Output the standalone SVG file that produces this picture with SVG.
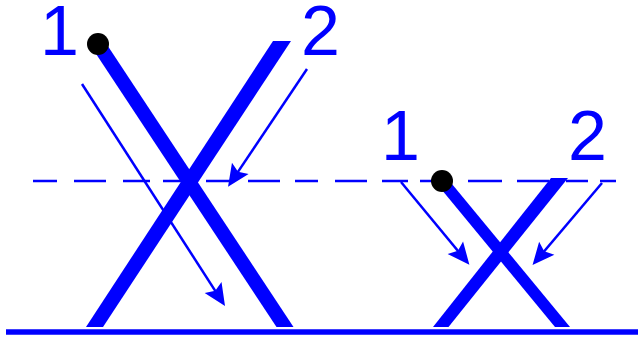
<svg xmlns="http://www.w3.org/2000/svg" width="638" height="340" viewBox="0 0 638 340">
  <style>
    .bar { fill: #0000ff; }
    .dot { fill: #000000; }
    .lbl { font-family: "Liberation Sans", Arial, sans-serif; font-size: 70px; fill: #0000ff; }
    .arr { stroke: #0000ff; stroke-width: 2.5; fill: none; marker-end: url(#head); }
    .dash { stroke: #0000ff; stroke-width: 2.5; fill: none; }
    .ground { stroke: #0000ff; stroke-width: 5.5; }
  </style>
  <defs>
    <marker id="head" markerUnits="userSpaceOnUse" markerWidth="40" markerHeight="40" refX="0" refY="0" orient="auto" overflow="visible">
      <path d="M10,0 L-12,-10 L-8,0 L-12,10 Z" fill="#0000ff"/>
    </marker>
  </defs>
  <rect width="638" height="340" fill="#ffffff"/>

  <g id="guide">
    <path class="dash" d="M33,181H57 M74,181H106 M123,181H150 M163,181H195 M206,181H232 M248,181H280 M295,181H318 M335,181H367 M382,181H408 M420,181H452 M468,181H502 M517,181H549 M566,181H588 M600,181H616"/>
  </g>

  <g id="ground">
    <line class="ground" x1="6" y1="332" x2="638" y2="332"/>
  </g>

  <g id="big-x">
    <polygon class="bar" points="273,41 291,41 103,327 86,327"/>
    <polygon class="bar" points="89.5,44 106.5,44 293.5,327 276.5,327"/>
    <circle class="dot" cx="98" cy="44" r="11"/>
  </g>

  <g id="small-x">
    <polygon class="bar" points="551,178 568,178 448.5,327 433,327"/>
    <polygon class="bar" points="434.5,181 449.5,181 570,327 555,327"/>
    <circle class="dot" cx="442" cy="181" r="11"/>
  </g>

  <g id="connectors">
    <line class="arr" x1="82" y1="84" x2="219.6" y2="297.6"/>
    <line class="arr" x1="307" y1="69" x2="233.6" y2="178.4"/>
    <line class="arr" x1="401" y1="182" x2="463" y2="257"/>
    <line class="arr" x1="602" y1="183" x2="539" y2="257.4"/>
  </g>

  <g id="labels">
    <text class="lbl" x="40" y="55">1</text>
    <text class="lbl" x="301" y="55">2</text>
    <text class="lbl" x="381" y="160">1</text>
    <text class="lbl" x="568" y="160">2</text>
  </g>
</svg>
